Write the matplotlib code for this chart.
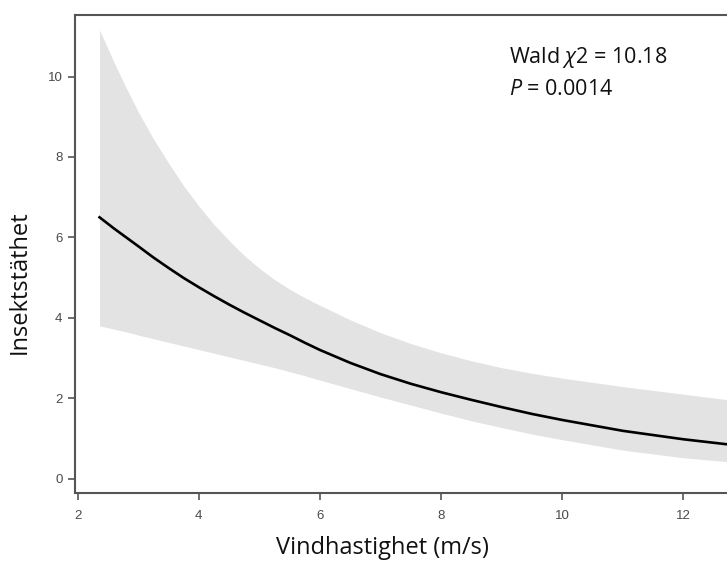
import matplotlib
matplotlib.use("Agg")
import matplotlib.pyplot as plt
import numpy as np

# Data
wind = [2.36, 2.6, 2.8, 3.0, 3.25, 3.5, 3.75, 4.0, 4.25, 4.5, 4.75, 5.0, 5.25, 5.5, 5.75, 6.0,
        6.5, 7.0, 7.5, 8.0, 8.5, 9.0, 9.5, 10.0, 11.0, 12.0, 12.75]
mean = [6.50, 6.22, 6.00, 5.78, 5.50, 5.24, 4.99, 4.76, 4.54, 4.33, 4.13, 3.94, 3.75, 3.57, 3.38, 3.20,
        2.88, 2.60, 2.36, 2.15, 1.96, 1.78, 1.61, 1.46, 1.19, 0.98, 0.85]
upper = [11.16, 10.35, 9.72, 9.12, 8.45, 7.85, 7.28, 6.78, 6.32, 5.92, 5.55, 5.23, 4.95, 4.71, 4.50, 4.31,
         3.95, 3.63, 3.36, 3.13, 2.93, 2.76, 2.62, 2.50, 2.29, 2.10, 1.96]
lower = [3.80, 3.72, 3.65, 3.57, 3.48, 3.39, 3.30, 3.21, 3.12, 3.03, 2.94, 2.85, 2.76, 2.66, 2.56, 2.45,
         2.24, 2.03, 1.83, 1.63, 1.44, 1.27, 1.11, 0.97, 0.71, 0.52, 0.42]
xticks = [2, 4, 6, 8, 10, 12]
yticks = [0, 2, 4, 6, 8, 10]

plt.rcParams['mathtext.fontset'] = 'custom'
plt.rcParams['mathtext.rm'] = 'Open Sans'
plt.rcParams['mathtext.it'] = 'Open Sans:italic'

fig = plt.figure(figsize=(7.27, 5.62), dpi=100)
ax = fig.add_axes([75/727, 69/562, 1 - 75/727, (493 - 15)/562])

ax.fill_between(wind, lower, upper, color='#e3e3e3', linewidth=0)
ax.plot(wind, mean, color='black', linewidth=1.9)

ax.set_xlim(1.955, 12.72)
ax.set_ylim(-0.356, 11.53)
ax.set_xticks(xticks)
ax.set_yticks(yticks)
ax.set_xticklabels([str(t) for t in xticks])
ax.set_yticklabels([str(t) for t in yticks])

for s in ['left', 'bottom', 'top']:
    ax.spines[s].set_color('#555555')
    ax.spines[s].set_linewidth(1.5)
ax.spines['right'].set_visible(False)

ax.tick_params(axis='both', direction='out', length=5, width=1.2, color='#555555',
               labelcolor='#4a4a4a', labelsize=9.5)
ax.tick_params(axis='x', pad=7)
ax.tick_params(axis='y', pad=4)
for lab in ax.get_xticklabels() + ax.get_yticklabels():
    lab.set_family('Liberation Sans')

ax.set_xlabel('Vindhastighet (m/s)', family='Open Sans', fontsize=17, color='#111111')
ax.set_ylabel('Insektstäthet', family='Open Sans', fontsize=17, color='#111111')
ax.xaxis.set_label_coords(0.471, -0.090)
ax.yaxis.set_label_coords(-0.066, 0.44)

fig.text(509/727, (562 - 63)/562, r'Wald $\chi$2 = 10.18', family='Open Sans',
         fontsize=15.5, va='baseline', ha='left', color='#111111')
fig.text(509/727, (562 - 95)/562, r'$P$ = 0.0014', family='Open Sans',
         fontsize=15.5, va='baseline', ha='left', color='#111111')

fig.savefig('out.png', dpi=100)
